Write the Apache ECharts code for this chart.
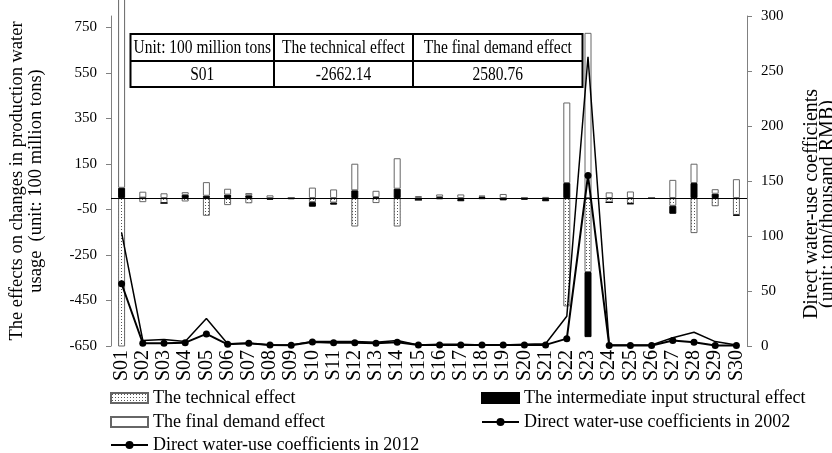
<!DOCTYPE html>
<html>
<head>
<meta charset="utf-8">
<script src="https://cdn.jsdelivr.net/npm/echarts@6/dist/echarts.min.js"></script>
<style>html,body{margin:0;padding:0;background:#fff;overflow:hidden;}#c{width:832px;height:453px;}</style>
</head>
<body>
<div id="c"></div>
<script>
const categories = ['S01','S02','S03','S04','S05','S06','S07','S08','S09','S10','S11','S12','S13','S14','S15','S16','S17','S18','S19','S20','S21','S22','S23','S24','S25','S26','S27','S28','S29','S30'];
const technicalEffect = [-2662.14,-18,-22,-15,-78,-31,-23,-2,0,-18,-20,-125,-22,-125,-8,-6,-4,-5,-2,-2,-4,-476,-325,-19,-24,-1,-34,-154,-36,-74];
const structuralEffect = [45,2,0,14,10,15,12,-5,-5,-20,-9,34,4,41,0,4,-10,6,-8,-5,-10,66,-286,0,-2,0,-35,66,19,-3];
const finalDemandEffect = [2580.76,26,21,12,60,26,10,12,3,46,38,117,28,134,9,12,16,5,18,3,5,354,726,25,29,1,80,85,20,83];
const coef2002 = [103,5,6,4,25,2,2.5,1,1,4,4,4,3.5,5,1,1.5,1.5,1,1,1.5,2,27,263,0.8,0.8,1,7.5,12.5,4,1];
const coef2012 = [56.6,2.5,2.5,3,11,1.5,2.5,1,0.6,3.6,3,3,2.5,3.5,1,1,1,0.8,0.8,1,1,6.7,155,0.5,0.5,0.5,5,3.5,0.5,0.5];
const leftTicks = [-650,-450,-250,-50,150,350,550,750];
const tableHeader = ['Unit: 100 million tons','The technical effect','The final demand effect'];
const tableRow = ['S01','-2662.14','2580.76'];

const serif = '"Liberation Serif","Times New Roman",serif';
const pc = document.createElement('canvas');
pc.width = 3; pc.height = 3;
const pctx = pc.getContext('2d');
pctx.fillStyle = '#ffffff'; pctx.fillRect(0,0,3,3);
pctx.fillStyle = '#555555'; pctx.fillRect(1,1,1,1);
const dotPattern = {image: pc, repeat: 'repeat'};

const chart = echarts.init(document.getElementById('c'), null, {renderer:'canvas', width:832, height:453});
const colX = [130.5, 274, 413, 582.5];
const rowY = [34, 61, 87];
const graphics = [
  {type:'rect', shape:{x:colX[0], y:rowY[0], width:colX[3]-colX[0], height:rowY[2]-rowY[0]}, style:{fill:'#fff', stroke:'#000', lineWidth:2}, z:100},
  {type:'line', shape:{x1:colX[0], y1:rowY[1], x2:colX[3], y2:rowY[1]}, style:{stroke:'#000', lineWidth:2}, z:101},
  {type:'line', shape:{x1:colX[1], y1:rowY[0], x2:colX[1], y2:rowY[2]}, style:{stroke:'#000', lineWidth:2}, z:101},
  {type:'line', shape:{x1:colX[2], y1:rowY[0], x2:colX[2], y2:rowY[2]}, style:{stroke:'#000', lineWidth:2}, z:101}
];
for (let i = 0; i < 3; i++) {
  const cx = (colX[i] + colX[i+1]) / 2;
  graphics.push({type:'text', x:cx, y:(rowY[0]+rowY[1])/2 + 1, scaleY:1.2, style:{text:tableHeader[i], font:'15.5px ' + serif, fill:'#000', align:'center', verticalAlign:'middle'}, z:102});
  graphics.push({type:'text', x:cx, y:(rowY[1]+rowY[2])/2 + 1, scaleY:1.2, style:{text:tableRow[i], font:'15.5px ' + serif, fill:'#000', align:'center', verticalAlign:'middle'}, z:102});
}

function leg(name, left, cy, icon) {
  const l = {left:left, top:cy - 9, orient:'horizontal', padding:0, itemWidth:37, itemHeight:10,
    data:[name], textStyle:{fontFamily:serif, fontSize:18, lineHeight:18, color:'#000'}};
  if (icon) l.icon = icon;
  return l;
}

const option = {
  animation: false,
  backgroundColor: '#fff',
  textStyle: {fontFamily: serif, color:'#000'},
  grid: {left:111, right:85, top:16, bottom:107, containLabel:false, outerBoundsMode:'none'},
  legend: [
    leg('The technical effect', 110, 398, 'rect'),
    leg('The final demand effect', 110, 422, 'rect'),
    leg('Direct water-use coefficients in 2012', 110, 445),
    leg('The intermediate input structural effect', 481, 398, 'rect'),
    leg('Direct water-use coefficients in 2002', 481, 422)
  ],
  xAxis: {
    type:'category', data:categories, boundaryGap:true,
    axisLine:{show:false}, axisTick:{show:false},
    axisLabel:{rotate:90, margin:4, fontFamily:serif, fontSize:20, color:'#000', interval:0}
  },
  yAxis: [
    {type:'value', min:-650, max:800,
     name:'The effects on changes in production water\nusage  (unit: 100 million tons)',
     nameLocation:'middle', nameRotate:90, nameGap:65,
     nameTextStyle:{fontFamily:serif, fontSize:18.5, lineHeight:19, color:'#000'},
     axisLine:{show:true, lineStyle:{color:'#808080', width:1}},
     axisTick:{show:true, length:5, customValues:leftTicks, lineStyle:{color:'#808080'}},
     axisLabel:{customValues:leftTicks, margin:14, fontFamily:serif, fontSize:15, color:'#000'},
     splitLine:{show:false}},
    {type:'value', min:0, max:300, interval:50, position:'right',
     name:'Direct water-use coefficients\n(unit: ton/thousand RMB)',
     nameLocation:'middle', nameRotate:90, nameGap:57,
     nameTextStyle:{fontFamily:serif, fontSize:20, lineHeight:16, color:'#000', padding:[0,46,0,0]},
     axisLine:{show:true, lineStyle:{color:'#808080', width:1}},
     axisTick:{show:true, length:5, lineStyle:{color:'#808080'}},
     axisLabel:{margin:14, fontFamily:serif, fontSize:15, color:'#000'},
     splitLine:{show:false}}
  ],
  series: [
    {name:'The technical effect', type:'bar', stack:'eff', barWidth:7, data:technicalEffect,
     itemStyle:{color:dotPattern, borderColor:'#666', borderWidth:1},
     markLine:{silent:true, symbol:'none', label:{show:false}, lineStyle:{color:'#000', width:1, type:'solid'}, data:[{yAxis:0}]}},
    {name:'The intermediate input structural effect', type:'bar', stack:'eff', barWidth:7, data:structuralEffect,
     itemStyle:{color:'#000', borderColor:'#000', borderWidth:1}},
    {name:'The final demand effect', type:'bar', stack:'eff', barWidth:7, data:finalDemandEffect, clip:false,
     itemStyle:{color:'#fff', borderColor:'#666', borderWidth:1}},
    {name:'Direct water-use coefficients in 2002', type:'line', yAxisIndex:1, data:coef2002,
     symbol:'none', lineStyle:{color:'#000', width:1.5}, itemStyle:{color:'#000'}, z:5},
    {name:'Direct water-use coefficients in 2012', type:'line', yAxisIndex:1, data:coef2012,
     symbol:'circle', symbolSize:7, lineStyle:{color:'#000', width:2}, itemStyle:{color:'#000'}, z:6}
  ],
  graphic: graphics
};
chart.setOption(option);
</script>
</body>
</html>
